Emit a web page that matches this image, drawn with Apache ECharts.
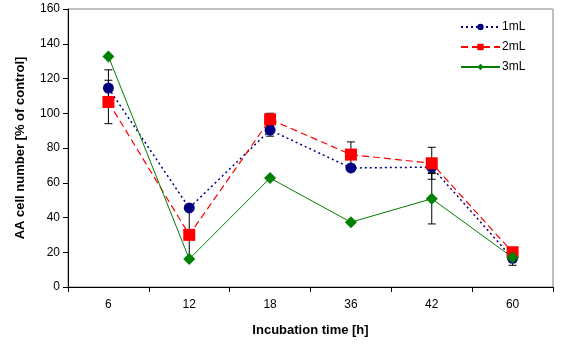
<!DOCTYPE html>
<html><head><meta charset="utf-8">
<script src="https://cdn.jsdelivr.net/npm/echarts@6/dist/echarts.min.js"></script>
<style>html,body{margin:0;padding:0;background:#fff}#c{width:565px;height:344px}</style>
</head><body><div id="c"></div>
<script>
const categories = ['6','12','18','36','42','60'];
const ml1 = [114.5, 45.5, 90.3, 68.5, 69.0, 16.5];
const ml2 = [106.5, 30.0, 96.5, 76.2, 71.2, 20.0];
const ml3 = [132.7, 16.1, 62.7, 37.3, 50.8, 17.0];
const err1 = [10.5, 0, 3.5, 0, 3.0, 4.0];
const err2 = [12.5, 14.5, 3.5, 7.3, 9.2, 2.5];
const err3 = [0, 0, 0, 0, 14.5, 0];
const yTicks = [0, 20, 40, 60, 80, 100, 120, 140, 160];

const chart = echarts.init(document.getElementById('c'));
const FONT = 'Liberation Sans, Arial, sans-serif';

function errSeries(vals, errs) {
  const data = vals.map((v, i) => [i, v, errs[i]]).filter(d => d[2] > 0);
  return {
    type: 'custom', silent: true, z: 1, legendHoverLink: false,
    renderItem: function (params, api) {
      const i = api.value(0), v = api.value(1), e = api.value(2);
      const top = api.coord([i, v + e]);
      const bot = api.coord([i, v - e]);
      const hw = 4;
      const st = { stroke: '#000', lineWidth: 1 };
      return { type: 'group', children: [
        { type: 'line', shape: { x1: top[0], y1: top[1], x2: bot[0], y2: bot[1] }, style: st },
        { type: 'line', shape: { x1: top[0]-hw, y1: top[1], x2: top[0]+hw, y2: top[1] }, style: st },
        { type: 'line', shape: { x1: bot[0]-hw, y1: bot[1], x2: bot[0]+hw, y2: bot[1] }, style: st }
      ]};
    },
    data: data
  };
}

chart.setOption({
  animation: false,
  backgroundColor: '#fff',
  grid: { left: 68, right: 12, top: 9, bottom: 57, show: true, borderColor: '#808080', borderWidth: 1, backgroundColor: 'transparent' },
  legend: {
    orient: 'vertical', left: 455, top: 16, itemWidth: 39, itemHeight: 8, itemGap: 8,
    textStyle: { fontFamily: FONT, fontSize: 12, color: '#000', padding: [0, 0, 0, -3] },
    data: ['1mL', '2mL', '3mL']
  },
  xAxis: {
    type: 'category', data: categories, boundaryGap: true,
    name: 'Incubation time [h]', nameLocation: 'middle', nameGap: 37,
    nameTextStyle: { fontFamily: FONT, fontSize: 13, fontWeight: 'bold', color: '#000' },
    axisLine: { lineStyle: { color: '#000', width: 1 } },
    axisTick: { show: true, inside: false, length: 5, lineStyle: { color: '#000' } },
    axisLabel: { fontFamily: FONT, fontSize: 12, color: '#000', margin: 12 },
    splitLine: { show: false }
  },
  yAxis: {
    type: 'value', min: 0, max: 160, interval: 20,
    name: 'AA cell number [% of control]', nameLocation: 'middle', nameGap: 41,
    nameTextStyle: { fontFamily: FONT, fontSize: 13, fontWeight: 'bold', color: '#000' },
    axisLine: { show: true, lineStyle: { color: '#000', width: 1 } },
    axisTick: { show: true, length: 5, lineStyle: { color: '#000' } },
    axisLabel: { fontFamily: FONT, fontSize: 12, color: '#000', margin: 8,
      formatter: v => yTicks.includes(v) ? String(v) : '' },
    splitLine: { show: false }
  },
  series: [
    errSeries(ml1, err1), errSeries(ml2, err2), errSeries(ml3, err3),
    { name: '1mL', type: 'line', data: ml1, z: 3, symbol: 'circle', symbolSize: 11,
      lineStyle: { color: '#000080', width: 1.5, type: [2, 3] },
      itemStyle: { color: '#000080' } },
    { name: '2mL', type: 'line', data: ml2, z: 4, symbol: 'rect', symbolSize: 12,
      lineStyle: { color: '#FF0000', width: 1.2, type: [7, 4] },
      itemStyle: { color: '#FF0000' } },
    { name: '3mL', type: 'line', data: ml3, z: 5, symbol: 'diamond', symbolSize: [12, 12],
      lineStyle: { color: '#008000', width: 1 },
      itemStyle: { color: '#008000' } }
  ]
});
</script></body></html>
